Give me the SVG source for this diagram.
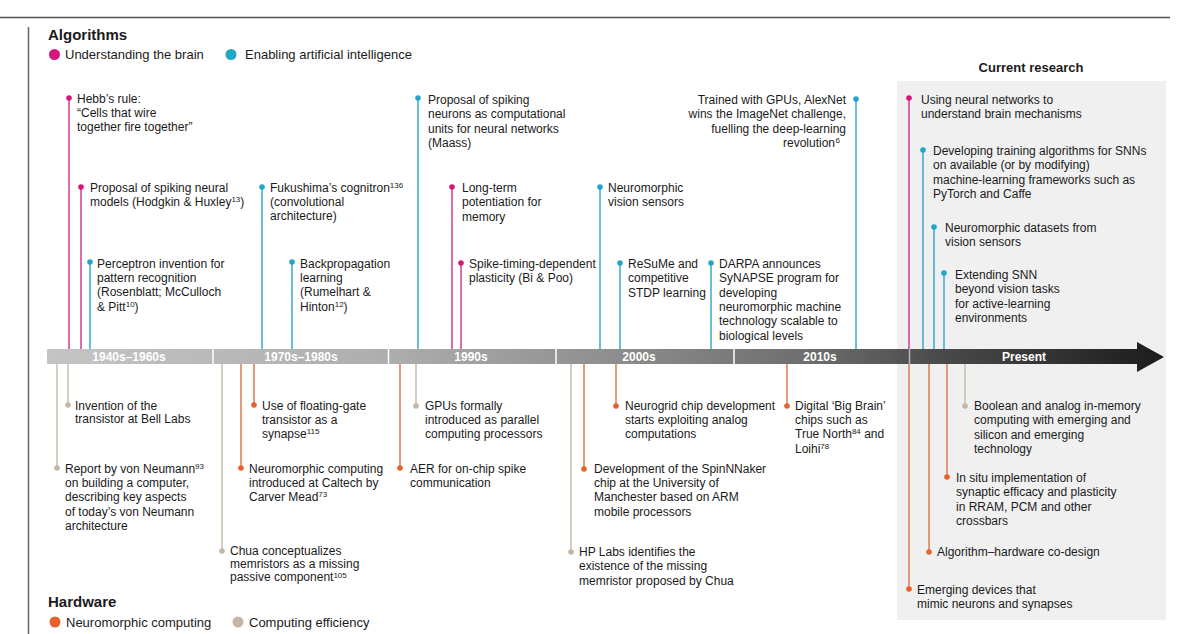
<svg xmlns="http://www.w3.org/2000/svg" width="1200" height="634" viewBox="0 0 1200 634">
<defs>
<linearGradient id="bar" gradientUnits="userSpaceOnUse" x1="47" y1="0" x2="1164" y2="0">
<stop offset="0" stop-color="#c4c4c4"/>
<stop offset="0.3" stop-color="#aeaeae"/>
<stop offset="0.5" stop-color="#8f8f8f"/>
<stop offset="0.68" stop-color="#6e6e6e"/>
<stop offset="0.8" stop-color="#4a4a4a"/>
<stop offset="1" stop-color="#1c1c1c"/>
</linearGradient>
<style>
text{font-family:"Liberation Sans",Arial,Helvetica,sans-serif;fill:#1a1a1a;font-size:12px}
.h{font-weight:bold;font-size:15px}
.cr{font-weight:bold;font-size:13px;text-anchor:middle}
.lg{font-size:13px}
.bl{font-weight:bold;font-size:12px;fill:#fff;text-anchor:middle}
.sup{font-size:8px}
.r{text-anchor:end}
line{stroke-width:1.5;fill:none}
.m{stroke:#d23c8e}.c{stroke:#3aabca}.o{stroke:#e07a4f}.n{stroke:#c9bcab}
.dm{fill:#d4177c}.dc{fill:#22a6c8}.do{fill:#e5622c}.dn{fill:#c5b6a3}
</style>
</defs>
<rect width="1200" height="634" fill="#fff"/>
<g id="frame">
<line x1="0" y1="17.5" x2="1170" y2="17.5" stroke="#555" stroke-width="1.5"/>
<line x1="28.5" y1="27" x2="28.5" y2="634" stroke="#666" stroke-width="1"/>
<rect x="897" y="81" width="269" height="539" fill="#f0f0f0"/>
<text x="1031" y="72" class="cr">Current research</text>
</g>
<g id="legend">
<text x="48" y="40" class="h">Algorithms</text>
<circle cx="54.5" cy="54.5" r="5.5" class="dm"/>
<text x="65" y="59" class="lg">Understanding the brain</text>
<circle cx="231" cy="54.5" r="5.5" class="dc"/>
<text x="245" y="59" class="lg">Enabling artificial intelligence</text>
<text x="48" y="607" class="h">Hardware</text>
<circle cx="55" cy="622" r="5.5" class="do"/>
<text x="66" y="627" class="lg">Neuromorphic computing</text>
<circle cx="238" cy="622" r="5.5" class="dn"/>
<text x="249" y="627" class="lg">Computing efficiency</text>
</g>
<g id="connectors">
<line x1="69" y1="98" x2="69" y2="349" class="m"/>
<line x1="81" y1="187" x2="81" y2="349" class="m"/>
<line x1="90" y1="262" x2="90" y2="349" class="c"/>
<line x1="262" y1="187" x2="262" y2="349" class="c"/>
<line x1="292" y1="262" x2="292" y2="349" class="c"/>
<line x1="418" y1="98" x2="418" y2="349" class="c"/>
<line x1="452" y1="187" x2="452" y2="349" class="m"/>
<line x1="461" y1="263" x2="461" y2="349" class="m"/>
<line x1="600" y1="187" x2="600" y2="349" class="c"/>
<line x1="620" y1="263" x2="620" y2="349" class="c"/>
<line x1="711" y1="263" x2="711" y2="349" class="c"/>
<line x1="856" y1="99" x2="856" y2="349" class="c"/>
<line x1="909" y1="98" x2="909" y2="349" class="m"/>
<line x1="923" y1="150" x2="923" y2="349" class="c"/>
<line x1="934" y1="227" x2="934" y2="349" class="c"/>
<line x1="944" y1="273" x2="944" y2="349" class="c"/>
<line x1="68" y1="364" x2="68" y2="405" class="n"/>
<line x1="57" y1="364" x2="57" y2="468" class="n"/>
<line x1="254" y1="364" x2="254" y2="405" class="o"/>
<line x1="241" y1="364" x2="241" y2="468" class="o"/>
<line x1="222" y1="364" x2="222" y2="551" class="n"/>
<line x1="400" y1="364" x2="400" y2="468" class="o"/>
<line x1="416" y1="364" x2="416" y2="406" class="n"/>
<line x1="584" y1="364" x2="584" y2="469" class="o"/>
<line x1="571" y1="364" x2="571" y2="552" class="n"/>
<line x1="616" y1="364" x2="616" y2="406" class="o"/>
<line x1="787" y1="364" x2="787" y2="406" class="o"/>
<line x1="965" y1="364" x2="965" y2="406" class="n"/>
<line x1="947" y1="364" x2="947" y2="477" class="o"/>
<line x1="929" y1="364" x2="929" y2="552" class="o"/>
<line x1="909" y1="364" x2="909" y2="589" class="o"/>
</g>
<g id="timeline">
<path d="M47 349 H1137 V342 L1164 357 L1137 372 V364 H47 Z" fill="url(#bar)"/>
<g stroke="#fff" stroke-width="1.5">
<line x1="213" y1="349" x2="213" y2="364"/>
<line x1="388.5" y1="349" x2="388.5" y2="364"/>
<line x1="556" y1="349" x2="556" y2="364"/>
<line x1="734" y1="349" x2="734" y2="364"/>
<line x1="909.5" y1="349" x2="909.5" y2="364" stroke-opacity="0.6"/>
</g>
<text x="129" y="361" class="bl">1940s–1960s</text>
<text x="301" y="361" class="bl">1970s–1980s</text>
<text x="471" y="361" class="bl">1990s</text>
<text x="639" y="361" class="bl">2000s</text>
<text x="820" y="361" class="bl">2010s</text>
<text x="1024" y="361" class="bl">Present</text>
</g>
<g id="a-hebb"><circle cx="69" cy="98" r="2.8" class="dm"/><text x="77" y="103">Hebb’s rule:<tspan x="77" dy="14">“Cells that wire</tspan><tspan x="77" dy="14">together fire together”</tspan></text></g>
<g id="a-hodgkin"><circle cx="81" cy="187" r="2.8" class="dm"/><text x="90" y="192">Proposal of spiking neural<tspan x="90" dy="14">models (Hodgkin &amp; Huxley</tspan><tspan class="sup" dy="-4">13</tspan><tspan dy="4">)</tspan></text></g>
<g id="a-perceptron"><circle cx="90" cy="262" r="2.8" class="dc"/><text x="97" y="268">Perceptron invention for<tspan x="97" dy="14.2">pattern recognition</tspan><tspan x="97" dy="14.2">(Rosenblatt; McCulloch</tspan><tspan x="97" dy="14.2">&amp; Pitt</tspan><tspan class="sup" dy="-4">10</tspan><tspan dy="4">)</tspan></text></g>
<g id="a-fukushima"><circle cx="262" cy="187" r="2.8" class="dc"/><text x="270" y="192">Fukushima’s cognitron<tspan class="sup" dy="-4">136</tspan><tspan x="270" dy="18">(convolutional</tspan><tspan x="270" dy="14">architecture)</tspan></text></g>
<g id="a-backprop"><circle cx="292" cy="262" r="2.8" class="dc"/><text x="300" y="268">Backpropagation<tspan x="300" dy="14.2">learning</tspan><tspan x="300" dy="14.2">(Rumelhart &amp;</tspan><tspan x="300" dy="14.2">Hinton</tspan><tspan class="sup" dy="-4">12</tspan><tspan dy="4">)</tspan></text></g>
<g id="a-maass"><circle cx="418" cy="98" r="2.8" class="dc"/><text x="428" y="104">Proposal of spiking<tspan x="428" dy="14.3">neurons as computational</tspan><tspan x="428" dy="14.3">units for neural networks</tspan><tspan x="428" dy="14.3">(Maass)</tspan></text></g>
<g id="a-ltp"><circle cx="452" cy="187" r="2.8" class="dm"/><text x="462" y="192">Long-term<tspan x="462" dy="14.3">potentiation for</tspan><tspan x="462" dy="14.3">memory</tspan></text></g>
<g id="a-stdp"><circle cx="461" cy="263" r="2.8" class="dm"/><text x="469" y="268">Spike-timing-dependent<tspan x="469" dy="14.3">plasticity (Bi &amp; Poo)</tspan></text></g>
<g id="a-vision"><circle cx="600" cy="187" r="2.8" class="dc"/><text x="608" y="192">Neuromorphic<tspan x="608" dy="14.3">vision sensors</tspan></text></g>
<g id="a-resume"><circle cx="620" cy="263" r="2.8" class="dc"/><text x="628" y="268">ReSuMe and<tspan x="628" dy="14.3">competitive</tspan><tspan x="628" dy="14.3">STDP learning</tspan></text></g>
<g id="a-darpa"><circle cx="711" cy="263" r="2.8" class="dc"/><text x="719" y="268">DARPA announces<tspan x="719" dy="14.3">SyNAPSE program for</tspan><tspan x="719" dy="14.3">developing</tspan><tspan x="719" dy="14.3">neuromorphic machine</tspan><tspan x="719" dy="14.3">technology scalable to</tspan><tspan x="719" dy="14.3">biological levels</tspan></text></g>
<g id="a-alexnet"><circle cx="856" cy="99" r="2.8" class="dc"/><text x="846" y="104" class="r">Trained with GPUs, AlexNet<tspan x="846" dy="14.3">wins the ImageNet challenge,</tspan><tspan x="846" dy="14.3">fuelling the deep-learning</tspan><tspan x="840" dy="14.3">revolution</tspan><tspan class="sup" dx="0.5" dy="-4">6</tspan></text></g>
<g id="c-brain"><circle cx="909" cy="98" r="2.8" class="dm"/><text x="921" y="104">Using neural networks to<tspan x="921" dy="14.3">understand brain mechanisms</tspan></text></g>
<g id="c-training"><circle cx="923" cy="150" r="2.8" class="dc"/><text x="933" y="155">Developing training algorithms for SNNs<tspan x="933" dy="14.3">on available (or by modifying)</tspan><tspan x="933" dy="14.3">machine-learning frameworks such as</tspan><tspan x="933" dy="14.3">PyTorch and Caffe</tspan></text></g>
<g id="c-datasets"><circle cx="934" cy="227" r="2.8" class="dc"/><text x="945" y="232">Neuromorphic datasets from<tspan x="945" dy="14.3">vision sensors</tspan></text></g>
<g id="c-snn"><circle cx="944" cy="273" r="2.8" class="dc"/><text x="955" y="279">Extending SNN<tspan x="955" dy="14.3">beyond vision tasks</tspan><tspan x="955" dy="14.3">for active-learning</tspan><tspan x="955" dy="14.3">environments</tspan></text></g>
<g id="h-transistor"><circle cx="68" cy="405" r="2.8" class="dn"/><text x="75" y="410">Invention of the<tspan x="75" dy="13.3">transistor at Bell Labs</tspan></text></g>
<g id="h-neumann"><circle cx="57" cy="468" r="2.8" class="dn"/><text x="65" y="473">Report by von Neumann<tspan class="sup" dy="-4">93</tspan><tspan x="65" dy="18.2">on building a computer,</tspan><tspan x="65" dy="14.2">describing key aspects</tspan><tspan x="65" dy="14.2">of today’s von Neumann</tspan><tspan x="65" dy="14.2">architecture</tspan></text></g>
<g id="h-floating"><circle cx="254" cy="405" r="2.8" class="do"/><text x="262" y="410">Use of floating-gate<tspan x="262" dy="14">transistor as a</tspan><tspan x="262" dy="14">synapse</tspan><tspan class="sup" dy="-4">115</tspan></text></g>
<g id="h-caltech"><circle cx="241" cy="468" r="2.8" class="do"/><text x="249" y="473">Neuromorphic computing<tspan x="249" dy="14.2">introduced at Caltech by</tspan><tspan x="249" dy="14.2">Carver Mead</tspan><tspan class="sup" dy="-4">73</tspan></text></g>
<g id="h-chua"><circle cx="222" cy="551" r="2.8" class="dn"/><text x="230" y="555">Chua conceptualizes<tspan x="230" dy="13">memristors as a missing</tspan><tspan x="230" dy="13">passive component</tspan><tspan class="sup" dy="-3.5">105</tspan></text></g>
<g id="h-aer"><circle cx="400" cy="468" r="2.8" class="do"/><text x="410" y="473">AER for on-chip spike<tspan x="410" dy="14.2">communication</tspan></text></g>
<g id="h-gpus"><circle cx="416" cy="406" r="2.8" class="dn"/><text x="425" y="410">GPUs formally<tspan x="425" dy="14.2">introduced as parallel</tspan><tspan x="425" dy="14.2">computing processors</tspan></text></g>
<g id="h-spinnaker"><circle cx="584" cy="469" r="2.8" class="do"/><text x="594" y="473">Development of the SpinNNaker<tspan x="594" dy="14.2">chip at the University of</tspan><tspan x="594" dy="14.2">Manchester based on ARM</tspan><tspan x="594" dy="14.2">mobile processors</tspan></text></g>
<g id="h-hplabs"><circle cx="571" cy="552" r="2.8" class="dn"/><text x="579" y="556">HP Labs identifies the<tspan x="579" dy="14.4">existence of the missing</tspan><tspan x="579" dy="14.4">memristor proposed by Chua</tspan></text></g>
<g id="h-neurogrid"><circle cx="616" cy="406" r="2.8" class="do"/><text x="625" y="410">Neurogrid chip development<tspan x="625" dy="14.2">starts exploiting analog</tspan><tspan x="625" dy="14.2">computations</tspan></text></g>
<g id="h-bigbrain"><circle cx="787" cy="406" r="2.8" class="do"/><text x="795" y="410">Digital ‘Big Brain’<tspan x="795" dy="14.2">chips such as</tspan><tspan x="795" dy="14.2">True North</tspan><tspan class="sup" dy="-4">84</tspan><tspan dy="4"> and</tspan><tspan x="795" dy="14.2">Loihi</tspan><tspan class="sup" dy="-4">78</tspan></text></g>
<g id="h-boolean"><circle cx="965" cy="406" r="2.8" class="dn"/><text x="974" y="410">Boolean and analog in-memory<tspan x="974" dy="14.3">computing with emerging and</tspan><tspan x="974" dy="14.3">silicon and emerging</tspan><tspan x="974" dy="14.3">technology</tspan></text></g>
<g id="h-insitu"><circle cx="947" cy="477" r="2.8" class="do"/><text x="956" y="482">In situ implementation of<tspan x="956" dy="14.3">synaptic efficacy and plasticity</tspan><tspan x="956" dy="14.3">in RRAM, PCM and other</tspan><tspan x="956" dy="14.3">crossbars</tspan></text></g>
<g id="h-codesign"><circle cx="929" cy="552" r="2.8" class="do"/><text x="937" y="556">Algorithm–hardware co-design</text></g>
<g id="h-emerging"><circle cx="909" cy="589" r="2.8" class="do"/><text x="917" y="594">Emerging devices that<tspan x="917" dy="14.3">mimic neurons and synapses</tspan></text></g>
</svg>
